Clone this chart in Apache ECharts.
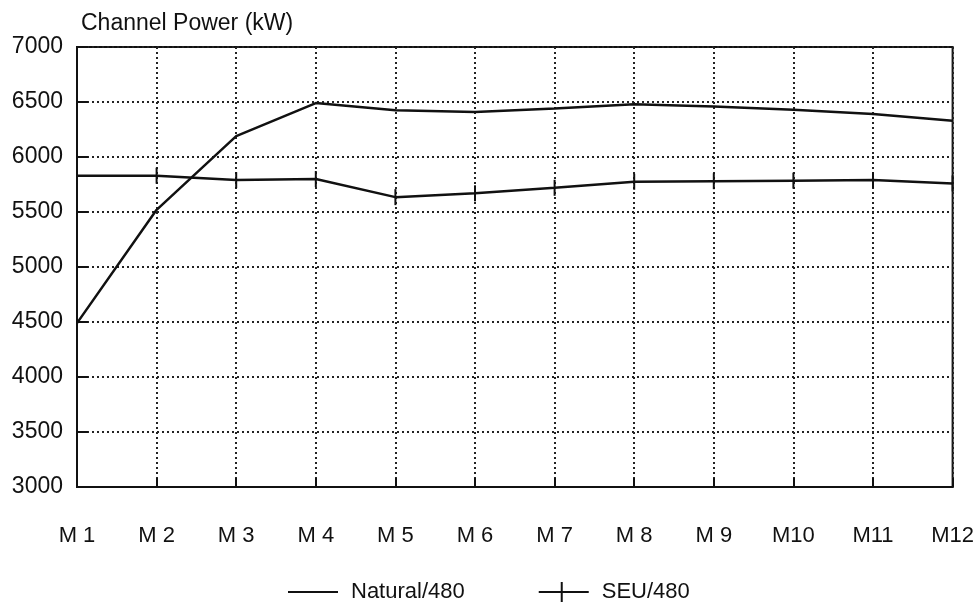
<!DOCTYPE html>
<html>
<head>
<meta charset="utf-8">
<script src="https://cdn.jsdelivr.net/npm/echarts@6/dist/echarts.min.js"></script>
<style>
  html, body { margin: 0; padding: 0; background: #fff; }
  #chart { width: 977px; height: 612px; }
</style>
</head>
<body>
<div id="chart"></div>
<script>
// months along the channel
const categories = ['M 1', 'M 2', 'M 3', 'M 4', 'M 5', 'M 6', 'M 7', 'M 8', 'M 9', 'M10', 'M11', 'M12']
// channel power, kW
const naturalValues = [4490, 5520, 6190, 6490, 6425, 6410, 6440, 6480, 6460, 6430, 6390, 6330]
const seuValues = [5830, 5830, 5790, 5800, 5635, 5670, 5720, 5775, 5780, 5785, 5790, 5760]

const font = 'Liberation Sans, Arial, sans-serif'
const tickBar = 'path://M0,0h2v20h-2z'
const legendSeu = 'path://M0,9h50v2h-50z M22,0h2v20h-2z'

const chart = echarts.init(document.getElementById('chart'))

chart.setOption({
  backgroundColor: '#fff',
  animation: false,
  title: {
    text: 'Channel Power (kW)',
    left: 76,
    top: 7,
    textStyle: { fontFamily: font, fontSize: 23, fontWeight: 'normal', color: '#111' }
  },
  legend: {
    left: 283,
    top: 576,
    itemWidth: 50,
    itemHeight: 20,
    itemGap: 74,
    textStyle: { fontFamily: font, fontSize: 22, color: '#111', padding: [0, 0, 0, 8] },
    data: [
      { name: 'Natural/480', icon: 'path://M0,9h50v2h-50z' },
      { name: 'SEU/480', icon: legendSeu }
    ]
  },
  grid: {
    left: 77,
    right: 24,
    top: 47,
    bottom: 125,
    show: true,
    borderColor: '#111',
    borderWidth: 2
  },
  xAxis: {
    type: 'category',
    data: categories,
    boundaryGap: false,
    axisLine: { lineStyle: { color: '#111', width: 2 } },
    axisTick: { inside: true, length: 9, lineStyle: { color: '#111', width: 2 } },
    axisLabel: { fontFamily: font, fontSize: 22, color: '#111', margin: 38 },
    splitLine: { show: true, lineStyle: { color: '#222', type: [2, 3], width: 2 } }
  },
  yAxis: {
    type: 'value',
    min: 3000,
    max: 7000,
    interval: 500,
    axisLine: { show: true, lineStyle: { color: '#111', width: 2 } },
    axisTick: { show: true, inside: true, length: 11, lineStyle: { color: '#111', width: 2 } },
    axisLabel: {
      fontFamily: font,
      fontSize: 23,
      color: '#111',
      margin: 14,
      formatter: (v) => String(v)
    },
    splitLine: { show: true, lineStyle: { color: '#222', type: [2, 3], width: 2 } }
  },
  series: [
    {
      name: 'Natural/480',
      type: 'line',
      data: naturalValues,
      showSymbol: false,
      symbol: 'none',
      lineStyle: { color: '#111', width: 2.5 },
      itemStyle: { color: '#111' }
    },
    {
      name: 'SEU/480',
      type: 'line',
      data: seuValues,
      symbol: tickBar,
      symbolSize: [2, 16],
      lineStyle: { color: '#111', width: 2.5 },
      itemStyle: { color: '#111' }
    }
  ]
})
</script>
</body>
</html>
